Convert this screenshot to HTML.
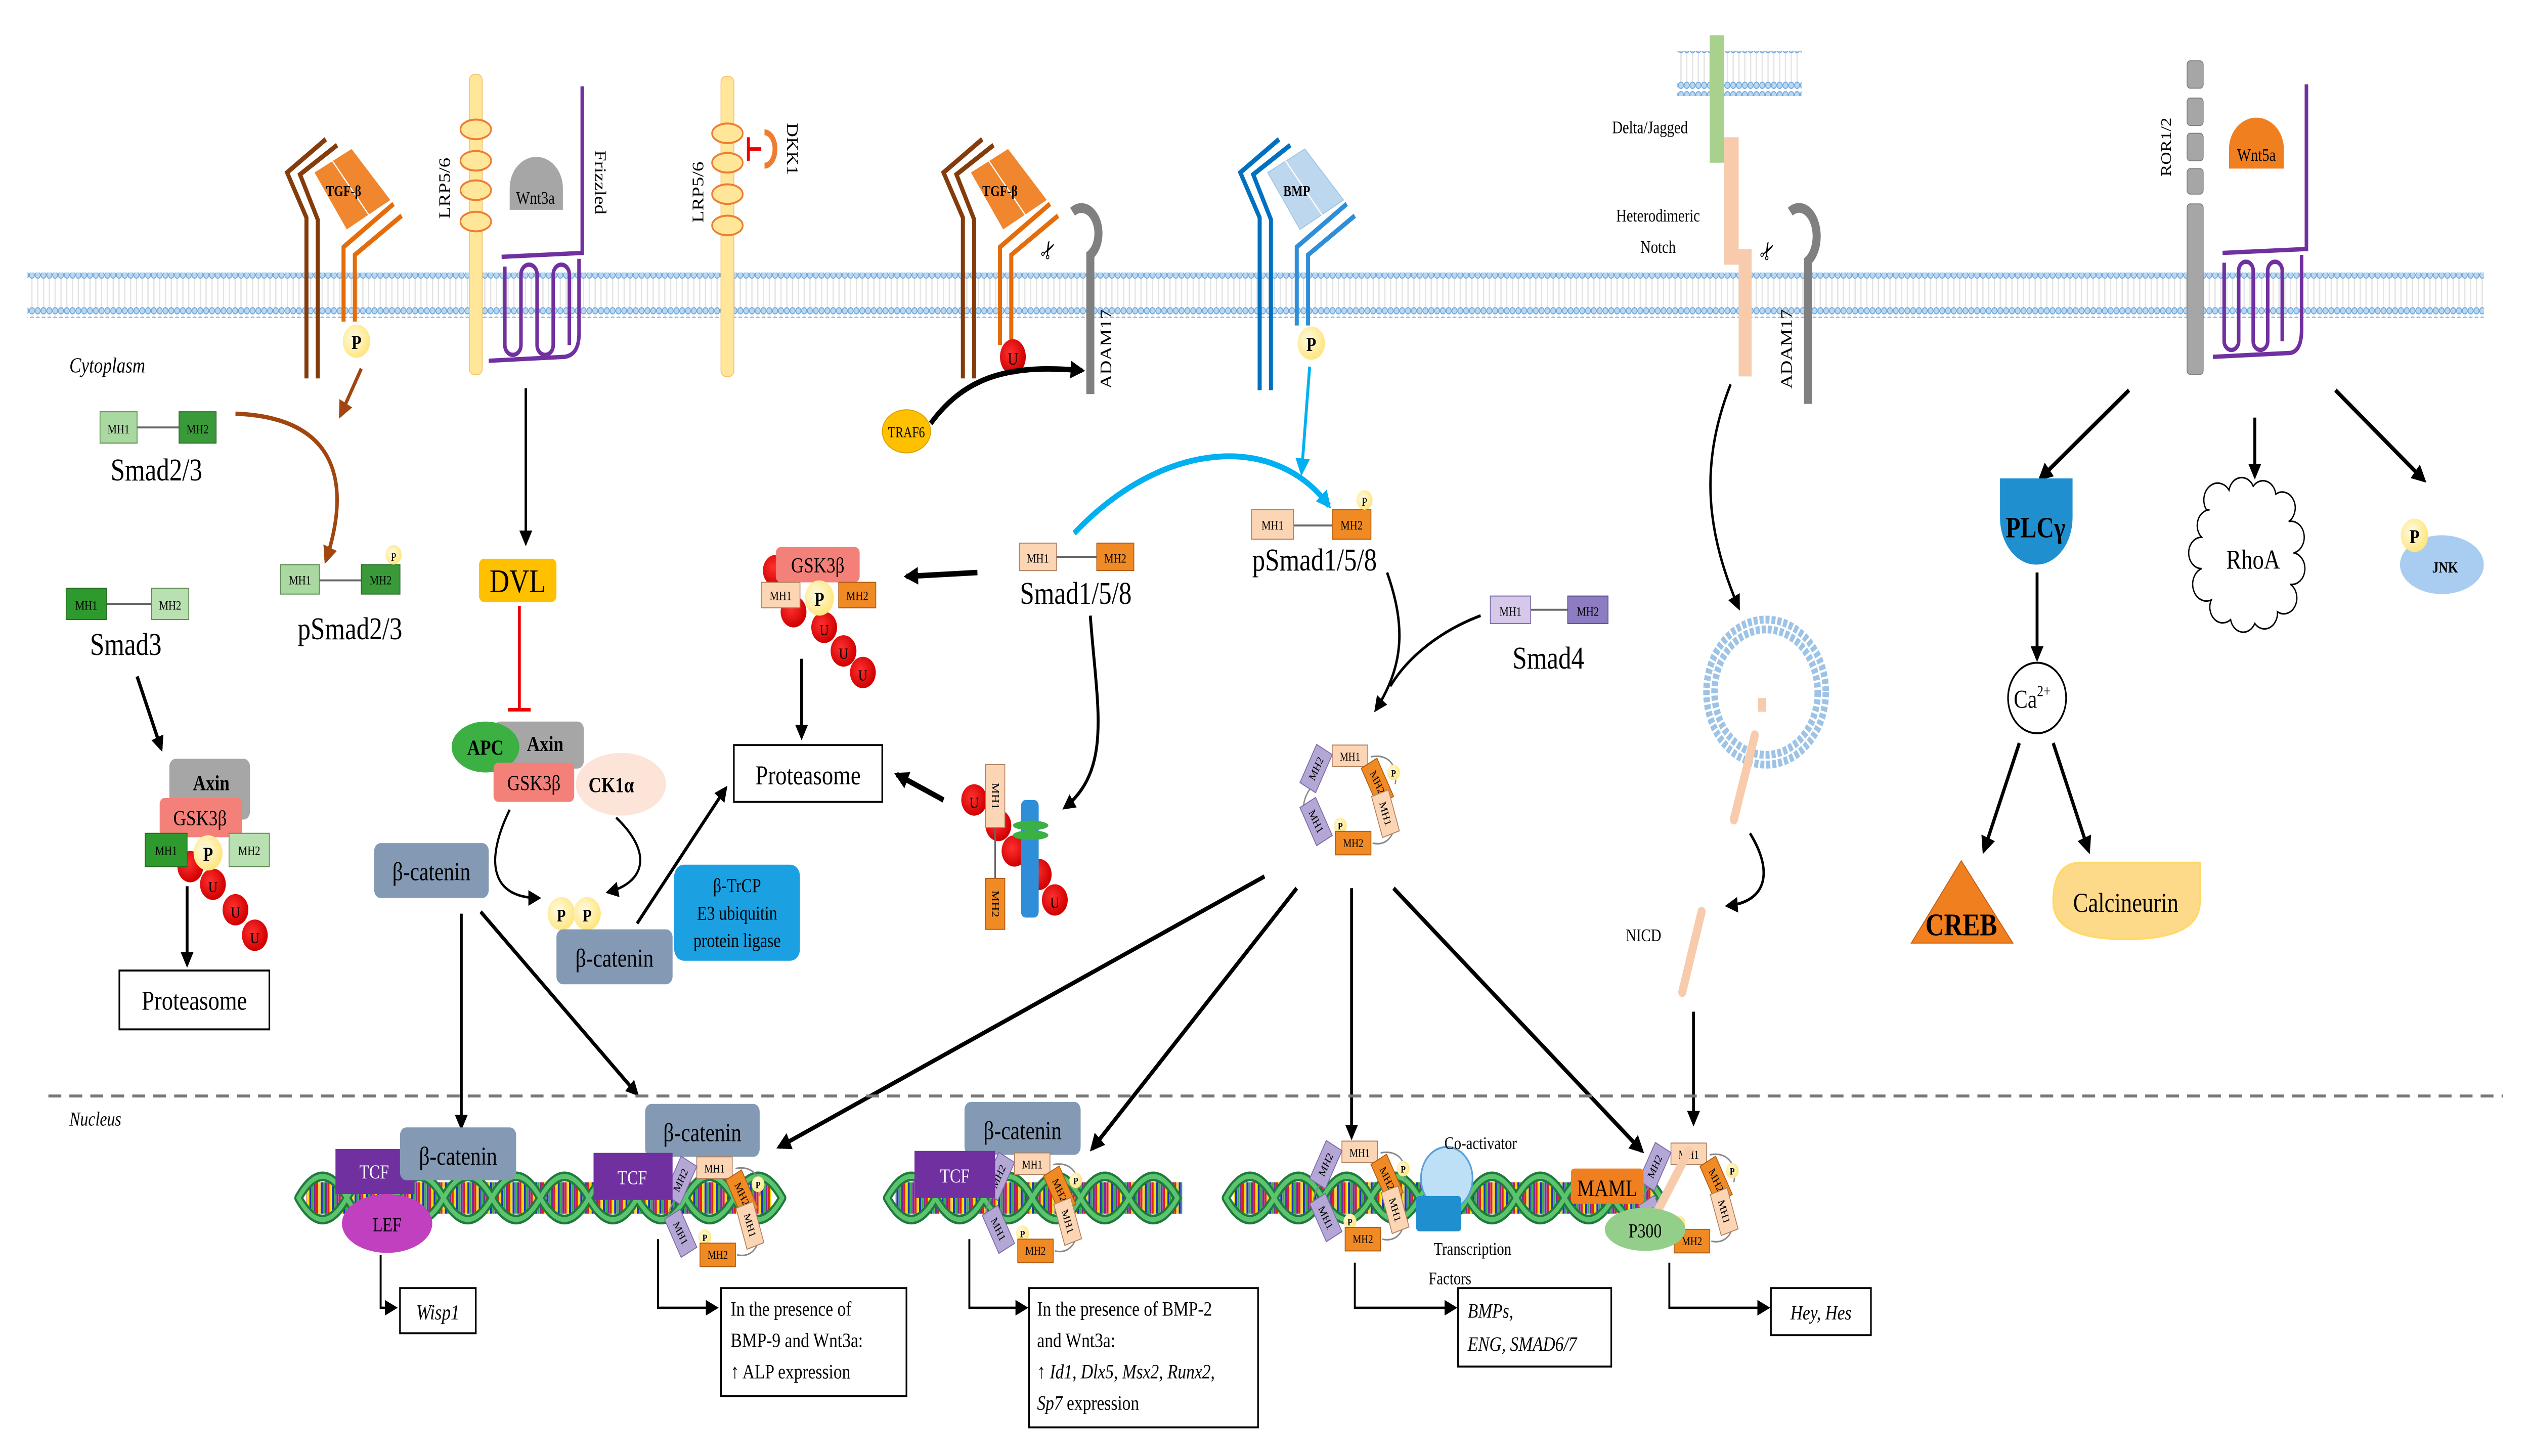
<!DOCTYPE html>
<html><head><meta charset="utf-8"><style>
html,body{margin:0;padding:0;background:#fff;overflow:hidden;width:100%;height:100%}
svg{display:block;position:absolute;left:0;top:0;width:100vw;height:100vh}
text{font-family:"Liberation Serif",serif}
</style></head><body>
<svg xmlns="http://www.w3.org/2000/svg" viewBox="0 0 1568 742.6" preserveAspectRatio="none">
<defs>
<marker id="a" viewBox="0 0 10 10" refX="8" refY="5" markerWidth="8" markerHeight="8" markerUnits="userSpaceOnUse" orient="auto"><path d="M0,0 L10,5 L0,10 z" fill="#000"/></marker>
<marker id="ab" viewBox="0 0 10 10" refX="8" refY="5" markerWidth="9" markerHeight="9" markerUnits="userSpaceOnUse" orient="auto"><path d="M0,0 L10,5 L0,10 z" fill="#000"/></marker>
<marker id="br" viewBox="0 0 10 10" refX="8" refY="5" markerWidth="9" markerHeight="9" markerUnits="userSpaceOnUse" orient="auto"><path d="M0,0 L10,5 L0,10 z" fill="#a0460e"/></marker>
<marker id="cy" viewBox="0 0 10 10" refX="8" refY="5" markerWidth="9" markerHeight="9" markerUnits="userSpaceOnUse" orient="auto"><path d="M0,0 L10,5 L0,10 z" fill="#00b0f0"/></marker>
<pattern id="mem" width="3.6" height="23" patternUnits="userSpaceOnUse">
<line x1="1.8" y1="4" x2="1.8" y2="19" stroke="#e4e4e4" stroke-width="0.8"/>
<circle cx="1.8" cy="2.3" r="1.6" fill="#bcd7f0" stroke="#6fa8dc" stroke-width="0.5"/>
<circle cx="1.8" cy="20.5" r="1.6" fill="#bcd7f0" stroke="#6fa8dc" stroke-width="0.5"/>
</pattern>
<pattern id="bp" width="7" height="20" patternUnits="userSpaceOnUse">
<rect x="0" y="0" width="1.3" height="20" fill="#e02020"/><rect x="1.4" y="0" width="1.3" height="20" fill="#f5e000"/><rect x="2.8" y="0" width="1.3" height="20" fill="#2030c0"/><rect x="4.2" y="0" width="1.3" height="20" fill="#30b040"/><rect x="5.6" y="0" width="1.3" height="20" fill="#7a2aa0"/>
</pattern>
<radialGradient id="pg" cx="0.4" cy="0.4" r="0.6"><stop offset="0" stop-color="#fffbe6"/><stop offset="1" stop-color="#ffe680"/></radialGradient>
<radialGradient id="ug" cx="0.4" cy="0.4" r="0.6"><stop offset="0" stop-color="#ff3030"/><stop offset="1" stop-color="#d00000"/></radialGradient>
<g id="sr">
<path d="M13,20 C2,28 2,38 9,44 M46,8 C58,6 63,14 61,22 M47,52 C57,54 62,46 60,40" stroke="#888" fill="none" stroke-width="0.8"/>
<rect x="22" y="2" width="22" height="11" fill="#fcd5b4" stroke="#b08060" stroke-width="0.5"/><text x="33" y="10" font-size="6" text-anchor="middle">MH1</text>
<g transform="translate(12,14) rotate(-62)"><rect x="-11" y="-5.5" width="22" height="11" fill="#b4a7d6" stroke="#7a6aa6" stroke-width="0.5"/><text y="2" font-size="6" text-anchor="middle">MH2</text></g>
<g transform="translate(50,21) rotate(62)"><rect x="-11" y="-5.5" width="22" height="11" fill="#f08a24" stroke="#b05a10" stroke-width="0.5"/><text y="2" font-size="6" text-anchor="middle">MH2</text></g>
<circle cx="60" cy="16" r="4" fill="url(#pg)"/><text x="60" y="18" font-size="5" text-anchor="middle" font-weight="bold">P</text>
<g transform="translate(55,37) rotate(72)"><rect x="-11" y="-5.5" width="22" height="11" fill="#fcd5b4" stroke="#b08060" stroke-width="0.5"/><text y="2" font-size="6" text-anchor="middle">MH1</text></g>
<g transform="translate(12,41) rotate(62)"><rect x="-11" y="-5.5" width="22" height="11" fill="#b4a7d6" stroke="#7a6aa6" stroke-width="0.5"/><text y="2" font-size="6" text-anchor="middle">MH1</text></g>
<circle cx="27" cy="43" r="4" fill="url(#pg)"/><text x="27" y="45" font-size="5" text-anchor="middle" font-weight="bold">P</text>
<rect x="24" y="46" width="22" height="12" fill="#f08a24" stroke="#b05a10" stroke-width="0.5"/><text x="35" y="54" font-size="6" text-anchor="middle">MH2</text>
</g>
</defs>

<rect x="17" y="139" width="1523" height="23" fill="url(#mem)"/>
<rect x="1040" y="26" width="77" height="23" fill="url(#mem)"/>

<g fill="none" stroke-width="2.5" stroke-linejoin="miter">
<path d="M190,193 V111 L178,88 L202,71" stroke="#843c0c"/>
<path d="M197,193 V112 L186,89 L209,74" stroke="#843c0c"/>
<path d="M213,164 V126 L244,104" stroke="#e46c0a"/>
<path d="M220,164 V130 L249,110" stroke="#e46c0a"/>
</g>
<polygon points="195,88 218,76 242,102 215,117" fill="#f0862e"/>
<path d="M206,82 L229,110" stroke="#fff" stroke-width="0.7"/>
<text x="213" y="100" font-size="7.5" font-weight="bold" text-anchor="middle">TGF-β</text>
<circle cx="221" cy="174" r="8.5" fill="url(#pg)"/><text x="221" y="178" font-size="10" font-weight="bold" text-anchor="middle">P</text>
<text x="43" y="190" font-size="11" font-style="italic">Cytoplasm</text>

<line x1="85" y1="218" x2="111" y2="218" stroke="#666" stroke-width="1"/>
<rect x="62" y="210" width="23" height="16" fill="#a9d8a0" stroke="#5a8a50" stroke-width="0.5"/><text x="73.5" y="221" font-size="6.5" text-anchor="middle">MH1</text>
<rect x="111" y="210" width="23" height="16" fill="#3a9a3a" stroke="#2a6a2a" stroke-width="0.5"/><text x="122.5" y="221" font-size="6.5" text-anchor="middle">MH2</text>
<text x="97" y="245" font-size="16" text-anchor="middle">Smad2/3</text>
<path d="M224,188 L211,212" stroke="#a0460e" stroke-width="2" marker-end="url(#br)"/>
<path d="M146,211 C212,213 217,249 202,286" stroke="#a0460e" stroke-width="2.2" fill="none" marker-end="url(#br)"/>
<line x1="198" y1="296" x2="224" y2="296" stroke="#666" stroke-width="1"/>
<rect x="174" y="288" width="24" height="15" fill="#a9d8a0" stroke="#5a8a50" stroke-width="0.5"/><text x="186" y="298" font-size="6.5" text-anchor="middle">MH1</text>
<rect x="224" y="288" width="24" height="15" fill="#3a9a3a" stroke="#2a6a2a" stroke-width="0.5"/><text x="236" y="298" font-size="6.5" text-anchor="middle">MH2</text>
<circle cx="244" cy="283" r="5" fill="url(#pg)"/><text x="244" y="286" font-size="6" text-anchor="middle">P</text>
<text x="217" y="326" font-size="16" text-anchor="middle">pSmad2/3</text>
<line x1="66" y1="308" x2="94" y2="308" stroke="#666" stroke-width="1"/>
<rect x="41" y="300" width="25" height="16" fill="#2e9a2e" stroke="#1f6a1f" stroke-width="0.5"/><text x="53.5" y="311" font-size="6.5" text-anchor="middle">MH1</text>
<rect x="94" y="300" width="23" height="16" fill="#b9e0b0" stroke="#5a8a50" stroke-width="0.5"/><text x="105.5" y="311" font-size="6.5" text-anchor="middle">MH2</text>
<text x="78" y="334" font-size="16" text-anchor="middle">Smad3</text>
<path d="M85,345 L100,382" stroke="#000" stroke-width="2" marker-end="url(#a)"/>
<rect x="105" y="387" width="50" height="31" rx="4" fill="#a6a6a6"/>
<text x="131" y="403" font-size="11" font-weight="bold" text-anchor="middle">Axin</text>
<circle cx="118" cy="442" r="8" fill="url(#ug)"/><circle cx="132" cy="451" r="8" fill="url(#ug)"/><circle cx="146" cy="464" r="8" fill="url(#ug)"/><circle cx="158" cy="477" r="8" fill="url(#ug)"/>
<text x="132" y="455" font-size="8" text-anchor="middle">U</text><text x="146" y="468" font-size="8" text-anchor="middle">U</text><text x="158" y="481" font-size="8" text-anchor="middle">U</text>
<rect x="99" y="407" width="51" height="20" rx="3" fill="#f4807a"/>
<text x="124" y="421" font-size="11" text-anchor="middle">GSK3β</text>
<rect x="90" y="425" width="26" height="17" fill="#2e9a2e" stroke="#1f6a1f" stroke-width="0.5"/><text x="103" y="436" font-size="6.5" text-anchor="middle">MH1</text>
<rect x="142" y="425" width="25" height="17" fill="#b9e0b0" stroke="#5a8a50" stroke-width="0.5"/><text x="154.5" y="436" font-size="6.5" text-anchor="middle">MH2</text>
<circle cx="129" cy="435" r="9" fill="url(#pg)"/><text x="129" y="439" font-size="10" font-weight="bold" text-anchor="middle">P</text>
<path d="M116,452 V492" stroke="#000" stroke-width="1.8" marker-end="url(#a)"/>
<rect x="74" y="495" width="93" height="30" fill="#fff" stroke="#000" stroke-width="1"/>
<text x="120.5" y="515" font-size="14" text-anchor="middle">Proteasome</text>

<rect x="291" y="38" width="8" height="153" rx="3" fill="#ffe699" stroke="#f6c26b" stroke-width="0.5"/>
<g fill="#ffe699" stroke="#ed7d31" stroke-width="1"><ellipse cx="295" cy="66" rx="9.5" ry="5"/><ellipse cx="295" cy="82" rx="9.5" ry="5"/><ellipse cx="295" cy="97" rx="9.5" ry="5"/><ellipse cx="295" cy="113" rx="9.5" ry="5"/></g>
<text transform="translate(279,96) rotate(-90)" font-size="10" text-anchor="middle">LRP5/6</text>
<path d="M316,107 V96 A16.5,16 0 0 1 349,96 V107 Z" fill="#a6a6a6"/>
<text x="332" y="104" font-size="9" text-anchor="middle">Wnt3a</text>
<g fill="none" stroke="#7030a0" stroke-width="2.2">
<path d="M361,44 V129 L311,131"/>
<path d="M313,136 V176 A5,5 0 0 0 323,176 V140 A5,5 0 0 1 333,140 V176 A5,5 0 0 0 343,176 V140 A5,5 0 0 1 353,140 V176"/>
<path d="M303,184 L350,182 Q359,181 359,170 V132"/>
</g>
<text transform="translate(369,93) rotate(90)" font-size="10" text-anchor="middle">Frizzled</text>
<path d="M326,198 V277" stroke="#000" stroke-width="1.5" marker-end="url(#a)"/>
<rect x="297" y="285" width="48" height="22" rx="3" fill="#ffc000"/>
<text x="321" y="302" font-size="17" text-anchor="middle">DVL</text>
<path d="M322,309 V362 M315,362 H329" stroke="#e00" stroke-width="1.8"/>

<rect x="447" y="39" width="8" height="153" rx="3" fill="#ffe699" stroke="#f6c26b" stroke-width="0.5"/>
<g fill="#ffe699" stroke="#ed7d31" stroke-width="1"><ellipse cx="451" cy="68" rx="9.5" ry="5"/><ellipse cx="451" cy="83" rx="9.5" ry="5"/><ellipse cx="451" cy="99" rx="9.5" ry="5"/><ellipse cx="451" cy="115" rx="9.5" ry="5"/></g>
<text transform="translate(436,98) rotate(-90)" font-size="10" text-anchor="middle">LRP5/6</text>
<path d="M474,66 A8,10 0 0 1 474,86 L474,83 A5,7 0 0 0 474,69 Z" fill="#ed7d31"/>
<path d="M472,76 H464 M464,70 V82" stroke="#e00" stroke-width="1.8"/>
<text transform="translate(488,76) rotate(90)" font-size="10" text-anchor="middle">DKK1</text>

<g transform="translate(407,0)">
<g fill="none" stroke-width="2.5">
<path d="M190,193 V111 L178,88 L202,71" stroke="#843c0c"/>
<path d="M197,193 V112 L186,89 L209,74" stroke="#843c0c"/>
<path d="M213,176 V126 L244,104" stroke="#e46c0a"/>
<path d="M220,176 V130 L249,110" stroke="#e46c0a"/>
</g>
<polygon points="195,88 218,76 242,102 215,117" fill="#f0862e"/>
<path d="M206,82 L229,110" stroke="#fff" stroke-width="0.7"/>
<text x="213" y="100" font-size="7.5" font-weight="bold" text-anchor="middle">TGF-β</text>
</g>
<ellipse cx="628" cy="182" rx="8" ry="9" fill="url(#ug)"/><text x="628" y="186" font-size="9" text-anchor="middle">U</text>
<path d="M665,108 A9,11 0 0 1 676,130 V201" fill="none" stroke="#808080" stroke-width="5"/>
<text x="651" y="131" font-size="12" text-anchor="middle" transform="rotate(-60 651 128)">✂</text>
<text transform="translate(689,178) rotate(-90)" font-size="10" text-anchor="middle">ADAM17</text>
<ellipse cx="562" cy="220" rx="15" ry="11" fill="#ffc000" stroke="#d9a000" stroke-width="0.5"/>
<text x="562" y="223" font-size="7.5" text-anchor="middle">TRAF6</text>
<path d="M577,216 C600,190 630,186 671,189" stroke="#000" stroke-width="2.8" fill="none" marker-end="url(#ab)"/>

<g transform="translate(591,0)">
<g fill="none" stroke-width="2.5">
<path d="M190,199 V111 L178,88 L202,71" stroke="#0070c0"/>
<path d="M197,199 V112 L186,89 L209,74" stroke="#0070c0"/>
<path d="M213,166 V126 L244,104" stroke="#2e8fd8"/>
<path d="M220,166 V130 L249,110" stroke="#2e8fd8"/>
</g>
<polygon points="195,88 218,76 242,102 215,117" fill="#bdd7ee" stroke="#9dc3e6" stroke-width="0.5"/>
<path d="M206,82 L229,110" stroke="#fff" stroke-width="0.7"/>
<text x="213" y="100" font-size="7.5" font-weight="bold" text-anchor="middle">BMP</text>
</g>
<circle cx="813" cy="175" r="8.5" fill="url(#pg)"/><text x="813" y="179" font-size="10" font-weight="bold" text-anchor="middle">P</text>
<path d="M812,187 L807,241" stroke="#00b0f0" stroke-width="1.8" marker-end="url(#cy)"/>
<path d="M666,272 C720,225 790,220 824,258" stroke="#00b0f0" stroke-width="3" fill="none" marker-end="url(#cy)"/>
<line x1="802" y1="268" x2="826" y2="268" stroke="#666" stroke-width="1"/>
<rect x="776" y="260" width="26" height="15" fill="#fcd5b4" stroke="#b08060" stroke-width="0.5"/><text x="789" y="270" font-size="6.5" text-anchor="middle">MH1</text>
<rect x="826" y="260" width="24" height="15" fill="#f08a24" stroke="#b05a10" stroke-width="0.5"/><text x="838" y="270" font-size="6.5" text-anchor="middle">MH2</text>
<circle cx="846" cy="255" r="5" fill="url(#pg)"/><text x="846" y="258" font-size="6" text-anchor="middle">P</text>
<text x="815" y="291" font-size="16" text-anchor="middle">pSmad1/5/8</text>
<line x1="655" y1="284" x2="680" y2="284" stroke="#666" stroke-width="1"/>
<rect x="632" y="277" width="23" height="14" fill="#fcd5b4" stroke="#b08060" stroke-width="0.5"/><text x="643.5" y="287" font-size="6.5" text-anchor="middle">MH1</text>
<rect x="680" y="277" width="23" height="14" fill="#f08a24" stroke="#b05a10" stroke-width="0.5"/><text x="691.5" y="287" font-size="6.5" text-anchor="middle">MH2</text>
<text x="667" y="308" font-size="16" text-anchor="middle">Smad1/5/8</text>
<path d="M606,292 L562,294" stroke="#000" stroke-width="2.8" marker-end="url(#ab)"/>
<path d="M676,314 C680,360 690,392 660,412" stroke="#000" stroke-width="1.8" fill="none" marker-end="url(#a)"/>
<circle cx="481" cy="291" r="8" fill="url(#ug)"/>
<circle cx="492" cy="312" r="8" fill="url(#ug)"/>
<circle cx="511" cy="320" r="8" fill="url(#ug)"/><circle cx="523" cy="332" r="8" fill="url(#ug)"/><circle cx="535" cy="343" r="8" fill="url(#ug)"/>
<text x="511" y="324" font-size="8" text-anchor="middle">U</text><text x="523" y="336" font-size="8" text-anchor="middle">U</text><text x="535" y="347" font-size="8" text-anchor="middle">U</text>
<rect x="481" y="279" width="52" height="18" rx="3" fill="#f4807a"/>
<text x="507" y="292" font-size="11" text-anchor="middle">GSK3β</text>
<rect x="472" y="297" width="24" height="13" fill="#fcd5b4" stroke="#b08060" stroke-width="0.5"/><text x="484" y="306" font-size="6.5" text-anchor="middle">MH1</text>
<rect x="520" y="297" width="23" height="13" fill="#f08a24" stroke="#b05a10" stroke-width="0.5"/><text x="531.5" y="306" font-size="6.5" text-anchor="middle">MH2</text>
<circle cx="508" cy="305" r="9" fill="url(#pg)"/><text x="508" y="309" font-size="10" font-weight="bold" text-anchor="middle">P</text>
<path d="M497,336 V376" stroke="#000" stroke-width="1.8" marker-end="url(#a)"/>
<rect x="455" y="380" width="92" height="29" fill="#fff" stroke="#000" stroke-width="1"/>
<text x="501" y="400" font-size="14" text-anchor="middle">Proteasome</text>
<path d="M585,408 L556,395" stroke="#000" stroke-width="2.8" marker-end="url(#ab)"/>
<circle cx="604" cy="408" r="8" fill="url(#ug)"/><circle cx="619" cy="421" r="8" fill="url(#ug)"/><circle cx="629" cy="434" r="8" fill="url(#ug)"/><circle cx="644" cy="446" r="8" fill="url(#ug)"/><circle cx="654" cy="459" r="8" fill="url(#ug)"/>
<text x="604" y="412" font-size="8" text-anchor="middle">U</text><text x="654" y="463" font-size="8" text-anchor="middle">U</text>
<line x1="617" y1="422" x2="617" y2="448" stroke="#666" stroke-width="1"/>
<rect x="611" y="390" width="12" height="32" fill="#fcd5b4" stroke="#b08060" stroke-width="0.5"/><text transform="translate(617,406) rotate(90)" font-size="6.5" text-anchor="middle" dy="2">MH1</text>
<rect x="611" y="448" width="12" height="26" fill="#f08a24" stroke="#b05a10" stroke-width="0.5"/><text transform="translate(617,461) rotate(90)" font-size="6.5" text-anchor="middle" dy="2">MH2</text>
<rect x="633" y="408" width="11" height="60" rx="3" fill="#2e8fd8"/>
<ellipse cx="639" cy="421" rx="11" ry="2.5" fill="#3cb043"/><ellipse cx="639" cy="426" rx="11" ry="2.5" fill="#3cb043"/>

<rect x="306" y="368" width="56" height="24" rx="4" fill="#a6a6a6"/>
<text x="338" y="383" font-size="11" font-weight="bold" text-anchor="middle">Axin</text>
<ellipse cx="385" cy="400" rx="28" ry="16" fill="#fde4d8"/>
<ellipse cx="301" cy="381" rx="21" ry="13" fill="#3cb043"/>
<text x="301" y="385" font-size="11" font-weight="bold" text-anchor="middle">APC</text>
<rect x="306" y="389" width="50" height="20" rx="3" fill="#f4807a"/>
<text x="331" y="403" font-size="11" text-anchor="middle">GSK3β</text>
<text x="379" y="404" font-size="11" font-weight="bold" text-anchor="middle">CK1α</text>
<rect x="232" y="430" width="71" height="28" rx="4" fill="#8499b4"/>
<text x="267.5" y="449" font-size="13" text-anchor="middle">β-catenin</text>
<path d="M316,413 C300,440 305,458 334,458" stroke="#000" stroke-width="1.3" fill="none" marker-end="url(#a)"/>
<path d="M382,417 C405,435 400,450 377,455" stroke="#000" stroke-width="1.3" fill="none" marker-end="url(#a)"/>
<circle cx="348" cy="466" r="8.5" fill="url(#pg)"/><text x="348" y="470" font-size="9" font-weight="bold" text-anchor="middle">P</text>
<circle cx="364" cy="466" r="8.5" fill="url(#pg)"/><text x="364" y="470" font-size="9" font-weight="bold" text-anchor="middle">P</text>
<rect x="345" y="474" width="72" height="28" rx="4" fill="#8499b4"/>
<text x="381" y="493" font-size="13" text-anchor="middle">β-catenin</text>
<rect x="418" y="441" width="78" height="49" rx="6" fill="#1ba1e2"/>
<text x="457" y="455" font-size="10" text-anchor="middle">β-TrCP</text>
<text x="457" y="469" font-size="10" text-anchor="middle">E3 ubiquitin</text>
<text x="457" y="483" font-size="10" text-anchor="middle">protein ligase</text>
<path d="M395,471 L450,402" stroke="#000" stroke-width="1.8" marker-end="url(#a)"/>
<path d="M286,466 V575" stroke="#000" stroke-width="1.8" marker-end="url(#a)"/>
<path d="M298,465 L395,558" stroke="#000" stroke-width="2" marker-end="url(#a)"/>

<line x1="949" y1="311" x2="972" y2="311" stroke="#666" stroke-width="1"/>
<rect x="924" y="304" width="25" height="14" fill="#d5c8e8" stroke="#7a6aa6" stroke-width="0.5"/><text x="936.5" y="314" font-size="6.5" text-anchor="middle">MH1</text>
<rect x="972" y="304" width="25" height="14" fill="#8e7cc3" stroke="#5a4a8a" stroke-width="0.5"/><text x="984.5" y="314" font-size="6.5" text-anchor="middle">MH2</text>
<text x="960" y="341" font-size="16" text-anchor="middle">Smad4</text>
<path d="M860,292 C872,320 870,340 853,362" stroke="#000" stroke-width="1.5" fill="none" marker-end="url(#a)"/>
<path d="M918,314 C892,322 872,336 862,350" stroke="#000" stroke-width="1.5" fill="none"/>
<use href="#sr" x="804" y="378"/>

<path d="M784,447 L483,585" stroke="#000" stroke-width="2.2" marker-end="url(#ab)"/>
<path d="M804,453 L677,586" stroke="#000" stroke-width="2.2" marker-end="url(#ab)"/>
<path d="M838,453 V580" stroke="#000" stroke-width="1.8" marker-end="url(#a)"/>
<path d="M864,453 L1018,587" stroke="#000" stroke-width="2.2" marker-end="url(#ab)"/>

<rect x="1060" y="18" width="9" height="65" fill="#a9d18e"/>
<text x="1023" y="68" font-size="9" text-anchor="middle">Delta/Jagged</text>
<rect x="1069" y="70" width="9" height="65" fill="#f8cbad"/>
<rect x="1078" y="127" width="8" height="65" fill="#f8cbad"/>
<text x="1028" y="113" font-size="9" text-anchor="middle">Heterodimeric</text>
<text x="1028" y="129" font-size="9" text-anchor="middle">Notch</text>
<path d="M1110,108 A9,12 0 0 1 1121,133 V206" fill="none" stroke="#808080" stroke-width="5"/>
<text x="1096" y="132" font-size="12" text-anchor="middle" transform="rotate(-60 1096 128)">✂</text>
<text transform="translate(1111,178) rotate(-90)" font-size="10" text-anchor="middle">ADAM17</text>
<path d="M1073,196 C1052,240 1060,275 1078,310" stroke="#000" stroke-width="1.5" fill="none" marker-end="url(#a)"/>
<circle cx="1095" cy="353" r="37" fill="none" stroke="#9dc3e6" stroke-width="4" stroke-dasharray="2.5 1.2"/>
<circle cx="1095" cy="353" r="32" fill="none" stroke="#9dc3e6" stroke-width="4" stroke-dasharray="2.5 1.2"/>
<rect x="1090" y="356" width="5" height="7" fill="#f8cbad"/>
<path d="M1088,375 L1075,418" stroke="#f8cbad" stroke-width="5" stroke-linecap="round"/>
<path d="M1085,425 C1100,445 1095,460 1071,462" stroke="#000" stroke-width="1.5" fill="none" marker-end="url(#a)"/>
<text x="1019" y="480" font-size="9" text-anchor="middle">NICD</text>
<path d="M1055,465 L1043,506" stroke="#f8cbad" stroke-width="5" stroke-linecap="round"/>
<path d="M1050,516 V573" stroke="#000" stroke-width="1.8" marker-end="url(#a)"/>

<g fill="#a6a6a6" stroke="#808080" stroke-width="0.5">
<rect x="1356" y="31" width="10" height="14" rx="2"/><rect x="1356" y="50" width="10" height="14" rx="2"/><rect x="1356" y="68" width="10" height="14" rx="2"/><rect x="1356" y="86" width="10" height="13" rx="2"/><rect x="1356" y="104" width="10" height="87" rx="2"/>
</g>
<text transform="translate(1346,75) rotate(-90)" font-size="9" text-anchor="middle">ROR1/2</text>
<path d="M1382,86 V76 A17,16 0 0 1 1416,76 V86 Z" fill="#f07f20"/>
<text x="1399" y="82" font-size="9" text-anchor="middle">Wnt5a</text>
<g fill="none" stroke="#7030a0" stroke-width="2.2">
<path d="M1430,43 V127 L1378,129"/>
<path d="M1379,134 V174 A4.5,4.5 0 0 0 1388,174 V138 A4.5,4.5 0 0 1 1397,138 V174 A4.5,4.5 0 0 0 1406,174 V138 A4.5,4.5 0 0 1 1415,138 V174"/>
<path d="M1372,182 L1420,180 Q1427,179 1427,168 V130"/>
</g>
<path d="M1320,199 L1265,244" stroke="#000" stroke-width="2.2" marker-end="url(#ab)"/>
<path d="M1398,213 V243" stroke="#000" stroke-width="1.8" marker-end="url(#a)"/>
<path d="M1448,199 L1503,245" stroke="#000" stroke-width="2.2" marker-end="url(#ab)"/>
<path d="M1240,244 H1285 V264 A22.5,24 0 0 1 1240,264 Z" fill="#1f8fd0"/>
<text x="1262" y="274" font-size="15" font-weight="bold" text-anchor="middle">PLCγ</text>
<path d="M1368,260 a8,8 0 0 1 14,-10 a8,8 0 0 1 15,-2 a8,8 0 0 1 14,4 a8,8 0 0 1 8,14 a8,8 0 0 1 3,16 a8,8 0 0 1 -2,16 a8,8 0 0 1 -8,14 a8,8 0 0 1 -14,6 a8,8 0 0 1 -15,-2 a8,8 0 0 1 -12,-10 a8,8 0 0 1 -6,-16 a8,8 0 0 1 0,-16 a8,8 0 0 1 5,-14 z" fill="#fff" stroke="#000" stroke-width="0.8"/>
<text x="1397" y="290" font-size="14" text-anchor="middle">RhoA</text>
<ellipse cx="1514" cy="288" rx="26" ry="15" fill="#a9cdf0"/>
<text x="1516" y="292" font-size="8" font-weight="bold" text-anchor="middle">JNK</text>
<circle cx="1497" cy="273" r="8.5" fill="url(#pg)"/><text x="1497" y="277" font-size="10" font-weight="bold" text-anchor="middle">P</text>
<path d="M1263,292 V336" stroke="#000" stroke-width="1.8" marker-end="url(#a)"/>
<circle cx="1263" cy="356" r="18" fill="#fff" stroke="#000" stroke-width="1"/>
<text x="1260" y="361" font-size="13" text-anchor="middle">Ca<tspan font-size="8" dy="-6">2+</tspan></text>
<path d="M1252,379 L1230,434" stroke="#000" stroke-width="2" marker-end="url(#ab)"/>
<path d="M1273,379 L1295,434" stroke="#000" stroke-width="2" marker-end="url(#ab)"/>
<polygon points="1216,439 1248,481 1185,481" fill="#f07f20" stroke="#c05a10" stroke-width="0.5"/>
<text x="1216" y="477" font-size="16" font-weight="bold" text-anchor="middle">CREB</text>
<path d="M1290,440 H1364 V460 Q1364,479 1318,479 Q1273,479 1273,460 Q1273,440 1290,440 Z" fill="#fdd98a" stroke="#ffd966" stroke-width="1"/>
<text x="1318" y="465" font-size="14" text-anchor="middle">Calcineurin</text>

<line x1="30" y1="559" x2="1552" y2="559" stroke="#777" stroke-width="1.5" stroke-dasharray="8 5"/>
<text x="43" y="574" font-size="10" font-style="italic">Nucleus</text>

<rect x="190" y="603" width="288" height="16" fill="url(#bp)"/>
<rect x="555" y="603" width="178" height="16" fill="url(#bp)"/>
<rect x="765" y="603" width="260" height="16" fill="url(#bp)"/>
<g fill="none" stroke-linecap="round">
<g stroke="#1e7b3c" stroke-width="5">
<path d="M185,611 q15,-22 30,0 t30,0 t30,0 t30,0 t30,0 t30,0 t30,0 t30,0 t30,0 t30,0"/>
<path d="M185,611 q15,22 30,0 t30,0 t30,0 t30,0 t30,0 t30,0 t30,0 t30,0 t30,0 t30,0"/>
<path d="M550,611 q15,-22 30,0 t30,0 t30,0 t30,0 t30,0 t30,0"/>
<path d="M550,611 q15,22 30,0 t30,0 t30,0 t30,0 t30,0 t30,0"/>
<path d="M760,611 q15,-22 30,0 t30,0 t30,0 t30,0 t30,0 t30,0 t30,0 t30,0 t30,0"/>
<path d="M760,611 q15,22 30,0 t30,0 t30,0 t30,0 t30,0 t30,0 t30,0 t30,0 t30,0"/>
</g>
<g stroke="#5cc46f" stroke-width="2.5">
<path d="M185,611 q15,-22 30,0 t30,0 t30,0 t30,0 t30,0 t30,0 t30,0 t30,0 t30,0 t30,0"/>
<path d="M185,611 q15,22 30,0 t30,0 t30,0 t30,0 t30,0 t30,0 t30,0 t30,0 t30,0 t30,0"/>
<path d="M550,611 q15,-22 30,0 t30,0 t30,0 t30,0 t30,0 t30,0"/>
<path d="M550,611 q15,22 30,0 t30,0 t30,0 t30,0 t30,0 t30,0"/>
<path d="M760,611 q15,-22 30,0 t30,0 t30,0 t30,0 t30,0 t30,0 t30,0 t30,0 t30,0"/>
<path d="M760,611 q15,22 30,0 t30,0 t30,0 t30,0 t30,0 t30,0 t30,0 t30,0 t30,0"/>
</g>
</g>

<rect x="208" y="586" width="49" height="23" fill="#7030a0"/>
<text x="232" y="601" font-size="10" fill="#fff" text-anchor="middle">TCF</text>
<rect x="248" y="575" width="72" height="27" rx="4" fill="#8499b4"/>
<text x="284" y="594" font-size="13" text-anchor="middle">β-catenin</text>
<ellipse cx="240" cy="624" rx="28" ry="15" fill="#c040c0"/>
<text x="240" y="628" font-size="10" text-anchor="middle">LEF</text>
<rect x="400" y="563" width="71" height="27" rx="4" fill="#8499b4"/>
<text x="435.5" y="582" font-size="13" text-anchor="middle">β-catenin</text>
<use href="#sr" x="410" y="588"/>
<rect x="368" y="588" width="49" height="24" fill="#7030a0"/>
<text x="392" y="604" font-size="10" fill="#fff" text-anchor="middle">TCF</text>
<rect x="598" y="562" width="72" height="27" rx="4" fill="#8499b4"/>
<text x="634" y="581" font-size="13" text-anchor="middle">β-catenin</text>
<use href="#sr" x="607" y="586"/>
<rect x="567" y="587" width="50" height="24" fill="#7030a0"/>
<text x="592" y="603" font-size="10" fill="#fff" text-anchor="middle">TCF</text>
<use href="#sr" x="810" y="580"/>
<circle cx="897" cy="601" r="16" fill="#bde0f7" stroke="#5aa0d8" stroke-width="1"/>
<rect x="878" y="610" width="28" height="18" rx="2" fill="#1f8fd0"/>
<text x="918" y="586" font-size="9" text-anchor="middle">Co-activator</text>
<text x="913" y="640" font-size="9" text-anchor="middle">Transcription</text>
<text x="899" y="655" font-size="9" text-anchor="middle">Factors</text>
<use href="#sr" x="1014" y="581"/>
<path d="M1047,587 L1025,622" stroke="#f8cbad" stroke-width="5" stroke-linecap="round"/>
<rect x="974" y="596" width="45" height="18" rx="2" fill="#f07f20"/>
<text x="996.5" y="610" font-size="12" text-anchor="middle">MAML</text>
<ellipse cx="1020" cy="627" rx="25" ry="11" fill="#93cf8a"/>
<text x="1020" y="631" font-size="10" text-anchor="middle">P300</text>

<g stroke="#000" stroke-width="1.2" fill="none">
<path d="M236,640 V667 H245" marker-end="url(#a)"/>
<path d="M408,632 V667 H444" marker-end="url(#a)"/>
<path d="M601,632 V667 H636" marker-end="url(#a)"/>
<path d="M840,644 V667 H902" marker-end="url(#a)"/>
<path d="M1035,644 V667 H1096" marker-end="url(#a)"/>
</g>
<rect x="248" y="657" width="47" height="23" fill="#fff" stroke="#000" stroke-width="1"/>
<text x="271.5" y="673" font-size="11" font-style="italic" text-anchor="middle">Wisp1</text>
<rect x="447" y="657" width="115" height="55" fill="#fff" stroke="#000" stroke-width="1"/>
<text x="453" y="671" font-size="10.5">In the presence of</text>
<text x="453" y="687" font-size="10.5">BMP-9 and Wnt3a:</text>
<text x="453" y="703" font-size="10.5">↑ ALP expression</text>
<rect x="638" y="657" width="142" height="71" fill="#fff" stroke="#000" stroke-width="1"/>
<text x="643" y="671" font-size="10.5">In the presence of BMP-2</text>
<text x="643" y="687" font-size="10.5">and Wnt3a:</text>
<text x="643" y="703" font-size="10.5">↑ <tspan font-style="italic">Id1</tspan>, <tspan font-style="italic">Dlx5</tspan>, <tspan font-style="italic">Msx2</tspan>, <tspan font-style="italic">Runx2</tspan>,</text>
<text x="643" y="719" font-size="10.5"><tspan font-style="italic">Sp7</tspan> expression</text>
<rect x="904" y="657" width="95" height="40" fill="#fff" stroke="#000" stroke-width="1"/>
<text x="910" y="672" font-size="10.5" font-style="italic">BMPs,</text>
<text x="910" y="689" font-size="10.5" font-style="italic">ENG, SMAD6/7</text>
<rect x="1098" y="657" width="62" height="24" fill="#fff" stroke="#000" stroke-width="1"/>
<text x="1129" y="673" font-size="10.5" font-style="italic" text-anchor="middle">Hey, Hes</text>
</svg>
</body></html>
